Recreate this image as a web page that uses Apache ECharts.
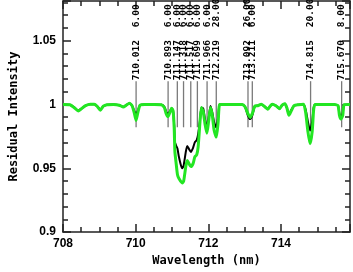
<!DOCTYPE html>
<html><head><meta charset="utf-8">
<script src="https://cdn.jsdelivr.net/npm/echarts@6/dist/echarts.min.js"></script>
<style>html,body{margin:0;padding:0;background:#fff}#c{width:353px;height:272px}</style>
</head><body><div id="c"></div>
<script>
const wavelengths = [708.00,708.19,708.32,708.42,708.51,708.62,708.75,708.86,708.94,709.03,709.11,709.21,709.39,709.55,709.66,709.74,709.83,709.90,709.96,710.01,710.06,710.12,710.25,710.52,710.71,710.79,710.84,710.89,710.95,710.99,711.03,711.06,711.08,711.11,711.15,711.19,711.24,711.28,711.32,711.38,711.42,711.47,711.52,711.58,711.63,711.68,711.72,711.77,711.81,711.86,711.91,711.96,712.01,712.06,712.11,712.16,712.22,712.27,712.31,712.39,712.66,712.93,713.01,713.09,713.15,713.21,713.28,713.36,713.46,713.57,713.64,713.70,713.76,713.86,713.96,714.03,714.11,714.16,714.22,714.28,714.36,714.48,714.62,714.68,714.74,714.80,714.86,714.90,714.94,715.21,715.47,715.57,715.61,715.65,715.70,715.74,715.90];
const observed = [1.000,0.9998,0.9975,0.9952,0.9967,0.999,1.0002,1.0002,0.9986,0.996,0.9986,0.9998,1.000,0.9994,0.998,0.9994,1.001,0.999,0.995,0.992,0.995,0.9994,1.000,1.000,0.9998,0.9982,0.9944,0.9923,0.995,0.997,0.995,0.9836,0.9705,0.968,0.9654,0.959,0.953,0.950,0.952,0.9628,0.9675,0.965,0.9628,0.966,0.9705,0.972,0.9767,0.9875,0.9975,0.9967,0.9882,0.982,0.9895,0.9988,0.9936,0.986,0.982,0.9898,1.0,1.0,1.0,1.0,0.9982,0.9913,0.9885,0.9913,0.9986,0.999,1.0002,0.9978,0.9962,0.9986,1.0002,0.999,0.9967,0.9994,1.0005,0.9975,0.9923,0.9955,0.999,0.9998,1.0002,0.9959,0.9867,0.9794,0.9867,0.9975,1.0,1.0,1.0,0.999,0.9928,0.9898,0.9928,0.9998,1.0];
const model = [1.000,0.9998,0.9972,0.9948,0.9967,0.999,1.0002,1.0002,0.9986,0.9955,0.9986,0.9998,1.000,0.9994,0.998,0.9994,1.001,0.999,0.9936,0.9875,0.9936,0.9994,1.000,1.000,0.9998,0.9975,0.9928,0.9905,0.9943,0.997,0.995,0.982,0.963,0.955,0.9452,0.942,0.9398,0.9385,0.9398,0.9513,0.956,0.9536,0.9513,0.9536,0.959,0.9605,0.9667,0.986,0.9975,0.9944,0.9844,0.9775,0.9872,0.9975,0.9913,0.9798,0.9744,0.9859,1.0,1.0,1.0,1.0,0.9982,0.9928,0.9898,0.9928,0.9986,0.999,1.0002,0.9978,0.9962,0.9986,1.0002,0.999,0.9967,0.9994,1.0005,0.9975,0.9915,0.9948,0.999,0.9998,1.0002,0.9936,0.979,0.9692,0.979,0.996,1.0,1.0,1.0,0.999,0.9913,0.9885,0.9913,0.9998,1.0];
const lineWaves = [710.012,710.893,711.147,711.318,711.517,711.699,711.966,712.219,713.092,713.211,714.815,715.670];
const lineEWs = [6.00,6.00,6.00,6.00,6.00,6.00,6.00,28.00,26.00,6.00,20.00,8.00];
const xTicks = [708,710,712,714];
const yTicks = [0.9,0.95,1,1.05];

const markTop = 1.0182, markBot = 0.9821, waveLabelY = 1.019, ewLabelY = 1.0605;

const chart = echarts.init(document.getElementById('c'), null, {renderer:'canvas'});
const axisCommon = {
  axisLine:{show:true, onZero:false, lineStyle:{color:'#222', width:1.5}},
  axisTick:{show:true, inside:true, length:8, lineStyle:{color:'#222', width:1.5}},
  minorTick:{show:true, length:5, lineStyle:{color:'#222', width:1.5}},
  splitLine:{show:false}
};
function near(v, arr){ return arr.some(t => Math.abs(t - v) < 1e-6); }
const xBase = Object.assign({type:'value', min:708, max:715.9, interval:2}, axisCommon);
const yBase = Object.assign({type:'value', min:0.9, max:1.081, interval:0.05}, axisCommon);
chart.setOption({
  animation:false,
  grid:{left:56, right:2, top:1, bottom:35, containLabel:false},
  xAxis:[
    Object.assign({}, xBase, {position:'bottom', minorTick:Object.assign({}, axisCommon.minorTick, {splitNumber:4}),
      name:'Wavelength (nm)', nameLocation:'middle', nameGap:21,
      nameTextStyle:{fontFamily:'DejaVu Sans Mono', fontWeight:'bold', fontSize:12, color:'#000'},
      axisLabel:{show:true, margin:6, fontFamily:'Liberation Sans', fontWeight:'bold', fontSize:12, color:'#000',
        formatter:v => near(v, xTicks) ? String(Math.round(v)) : ''}}),
    Object.assign({}, xBase, {position:'top', minorTick:Object.assign({}, axisCommon.minorTick, {splitNumber:4}),
      axisLabel:{show:false}})
  ],
  yAxis:[
    Object.assign({}, yBase, {position:'left', minorTick:Object.assign({}, axisCommon.minorTick, {splitNumber:5}),
      name:'Residual Intensity', nameLocation:'middle', nameGap:43,
      nameTextStyle:{fontFamily:'DejaVu Sans Mono', fontWeight:'bold', fontSize:12, color:'#000'},
      axisLabel:{show:true, margin:7, fontFamily:'Liberation Sans', fontWeight:'bold', fontSize:12, color:'#000',
        formatter:v => near(v, yTicks) ? String(parseFloat(v.toFixed(2))) : ''}}),
    Object.assign({}, yBase, {position:'right', minorTick:Object.assign({}, axisCommon.minorTick, {splitNumber:5}),
      axisLabel:{show:false}})
  ],
  series:[
    {
      type:'custom', xAxisIndex:0, yAxisIndex:0, z:1, clip:false,
      data: lineWaves.map((w,i) => [w, lineEWs[i]]),
      renderItem:(params, api) => {
        const w = api.value(0), ew = api.value(1);
        const t = api.coord([w, markTop]), b = api.coord([w, markBot]);
        const wl = api.coord([w, waveLabelY]), el = api.coord([w, ewLabelY]);
        return {type:'group', children:[
          {type:'line', shape:{x1:t[0], y1:t[1], x2:b[0], y2:b[1]}, style:{stroke:'#7a7a7a', lineWidth:1.3}},
          {type:'text', x:wl[0], y:wl[1], rotation:Math.PI/2,
            style:{text:w.toFixed(3), font:'bold 9.5px "DejaVu Sans Mono"', fill:'#000', align:'left', verticalAlign:'middle'}},
          {type:'text', x:el[0], y:el[1], rotation:Math.PI/2,
            style:{text:ew.toFixed(2), font:'bold 9.5px "DejaVu Sans Mono"', fill:'#000', align:'left', verticalAlign:'middle'}}
        ]};
      }
    },
    {type:'line', z:3, data: wavelengths.map((w,i) => [w, observed[i]]), showSymbol:false, smooth:0.2,
      lineStyle:{color:'#000', width:2}, clip:true},
    {type:'line', z:4, data: wavelengths.map((w,i) => [w, model[i]]), showSymbol:false, smooth:0.2,
      lineStyle:{color:'#22e622', width:3}, clip:true}
  ]
});
</script></body></html>
